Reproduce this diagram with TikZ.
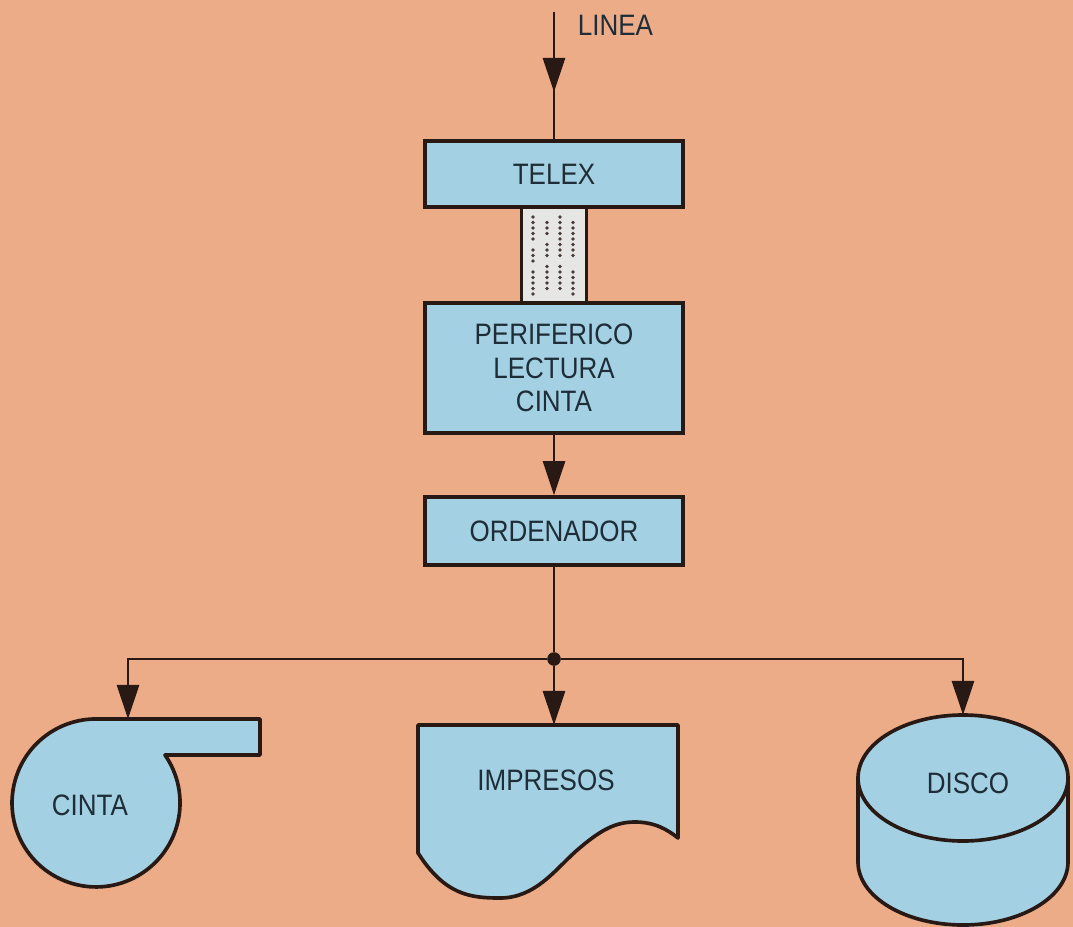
\documentclass[tikz,border=0pt]{standalone}
\usepackage{fontspec}
\setmainfont{Liberation Sans}[FakeStretch=0.88]
\usepackage{xcolor}
\usepackage{tikz}
\usetikzlibrary{arrows.meta}
\definecolor{paper}{RGB}{236,172,136}
\definecolor{boxblue}{RGB}{163,208,226}
\definecolor{ink}{RGB}{40,25,20}
\definecolor{inktext}{RGB}{30,45,55}
\definecolor{tapegrey}{RGB}{230,230,228}
\tikzstyle{lbl} = [text=inktext, font=\fontsize{21}{24}\selectfont, align=center]
\tikzstyle{box} = [lbl, draw=ink, fill=boxblue, line width=2.6pt, minimum width=6.45cm]
\tikzstyle{solid} = [draw=ink, fill=boxblue, line width=2.6pt, line join=round]
\tikzstyle{wire} = [draw=ink, line width=1.9pt]
\tikzstyle{link} = [wire, -{Triangle[length=0.85cm, width=0.55cm]}]

\begin{document}
\begin{tikzpicture}[x=0.025cm, y=0.025cm, % one unit is one pixel of the original
    dot/.style={circle, fill=ink, inner sep=0pt, minimum size=0.34cm}]
    \useasboundingbox (0,0) rectangle (1073,-927);
    \fill[paper] (0,0) rectangle (1073,-927);

    % punched tape between the telex and the reader
    \node[draw=ink, fill=tapegrey, line width=1.6pt, minimum width=1.625cm,
        minimum height=2.45cm] (tape) at (554,-255) {};
    \foreach \c/\rows in {533/{0,1,2,3,4,6,7,8,10,11,12,13,14},
            547/{1,2,3,5,6,7,9,10,11,12,13},
            560/{0,1,2,3,4,5,6,7,9,10,11,12,13},
            573/{1,2,3,4,5,6,7,10,11,12,13,14}}
        \foreach \r in \rows
            \fill[ink!85] (\c,{-217-5.5*\r}) circle (0.045cm);

    \node[box, minimum height=1.65cm] (telex) at (554,-174) {TELEX};
    \node[box, minimum height=3.25cm] (perif) at (554,-368)
        {PERIFERICO\\LECTURA\\CINTA};
    \node[box, minimum height=1.7cm] (orden) at (554,-531) {ORDENADOR};

    % incoming line
    \coordinate (linea) at (554,-12);
    \coordinate (lineaTip) at (554,-92);
    \draw[wire] (linea) -- (telex);
    \draw[link] (linea) -- (lineaTip);
    \node[lbl, anchor=base west] (lineaLbl) at (573,-35) {LINEA};

    \draw[link] (perif) -- (orden);

    % outputs
    \node[dot] (junc) at (554,-659) {};
    \coordinate (cintaIn) at (128,-719);
    \coordinate (imprIn) at (554,-725);
    \coordinate (discoIn) at (963,-715);
    \draw[wire] (orden) -- (junc);
    \draw[link] (junc) -| (cintaIn);
    \draw[link] (junc) -- (imprIn);
    \draw[link] (junc) -| (discoIn);

    % magnetic tape
    \filldraw[solid] (96,-719) -- (260,-719) -- (260,-755) -- (165,-755)
        arc[start angle=34.8, end angle=-270, radius=84] -- cycle;
    \node[lbl] (cinta) at (90,-805) {CINTA};

    % printed document
    \filldraw[solid] (418,-725) -- (678,-725) -- (678,-838)
        .. controls (668,-830) and (655,-822) .. (635,-822)
        .. controls (615,-822) and (600,-830) .. (575,-852)
        .. controls (555,-870) and (535,-898) .. (500,-898)
        .. controls (470,-898) and (445,-895) .. (418,-853) -- cycle;
    \node[lbl] (impr) at (546,-780) {IMPRESOS};

    % disk
    \filldraw[solid] (858,-778) -- (858,-862)
        arc[start angle=180, end angle=360, x radius=105, y radius=63]
        -- (1068,-778)
        arc[start angle=0, end angle=180, x radius=105, y radius=63] -- cycle;
    \draw[solid, fill=none] (858,-778)
        arc[start angle=180, end angle=360, x radius=105, y radius=63];
    \node[lbl] (disco) at (968,-783) {DISCO};
\end{tikzpicture}
\end{document}
